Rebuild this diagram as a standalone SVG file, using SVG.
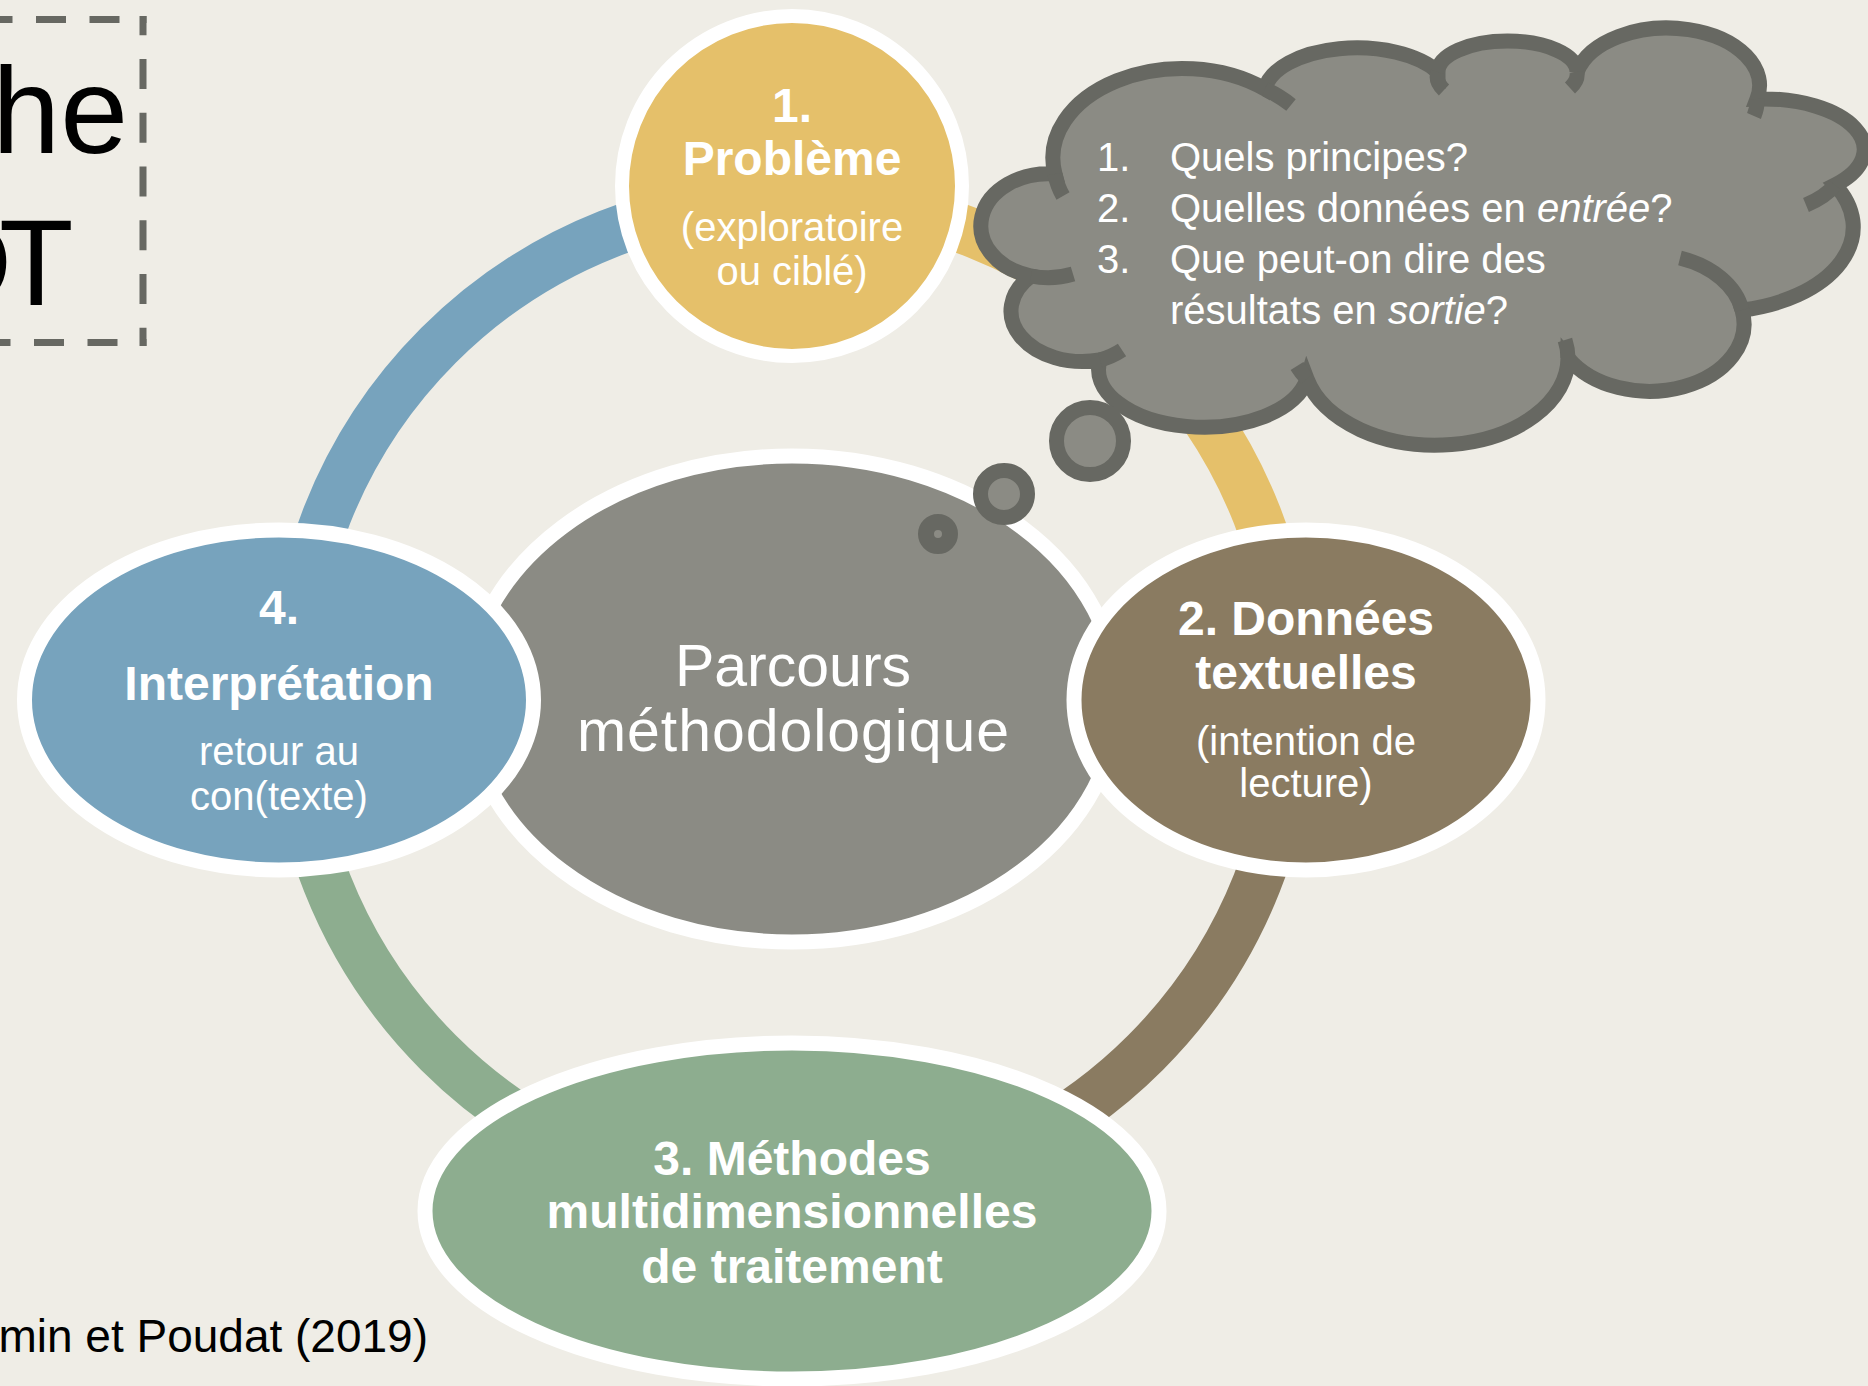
<svg xmlns="http://www.w3.org/2000/svg" width="1868" height="1386" viewBox="0 0 1868 1386">
<defs>
<style>
.lbl{font-family:"Liberation Sans",Arial,sans-serif;fill:#fff;text-anchor:middle}
.ttl{font-weight:bold;font-size:48px}
.sub{font-size:40px}
.ring{fill:none;stroke-width:49}
.node{stroke:#fff}
.cloud{fill:#8b8b84;stroke:#676862;stroke-width:15;stroke-linejoin:miter}
.tick{fill:none;stroke:#676862;stroke-width:15}
.bub{fill:#8b8b84;stroke:#676862}
.dash{fill:none;stroke:#676862;stroke-width:7}
.q{font-family:"Liberation Sans",Arial,sans-serif;fill:#fff;font-size:40px}
.blk{font-family:"Liberation Sans",Arial,sans-serif;fill:#000}
</style>
</defs>

<rect width="1868" height="1386" fill="#efede6"/>

<!-- title frame, cut by the left edge -->
<g id="title">
  <path class="dash" d="M146.5 19.5 H-30" stroke-dasharray="30 23.5" stroke-dashoffset="26.5"/>
  <path class="dash" d="M143 16 V346" stroke-dasharray="30 23.75" stroke-dashoffset="10.75"/>
  <path class="dash" d="M146.5 342.5 H-30" stroke-dasharray="30 23.5" stroke-dashoffset="24.5"/>
  <text class="blk" x="128" y="153" font-size="122" text-anchor="end">he</text>
  <text class="blk" y="305" font-size="122"><tspan x="-76">D</tspan><tspan x="-1">T</tspan></text>
</g>

<g id="citation">
  <text class="blk" x="428" y="1352" font-size="46" text-anchor="end">min et Poudat (2019)</text>
</g>

<!-- circular track linking the four steps -->
<g id="connectors">
  <path class="ring" stroke="#77a3bd" d="M292 699 A500 500 0 0 1 792 199"/>
  <path class="ring" stroke="#e5c06a" d="M792 199 A500 500 0 0 1 1292 699"/>
  <path class="ring" stroke="#8a7b61" d="M1292 699 A500 500 0 0 1 792 1199"/>
  <path class="ring" stroke="#8dad8f" d="M792 1199 A500 500 0 0 1 292 699"/>
</g>

<g id="center">
  <ellipse class="node" cx="792" cy="699" rx="325" ry="243" fill="#8b8b84" stroke-width="15"/>
  <text class="lbl" x="793" y="686" font-size="59">Parcours</text>
  <text class="lbl" x="793" y="751" font-size="59" textLength="432">méthodologique</text>
</g>

<g id="node-probleme">
  <circle class="node" cx="792" cy="186" r="170" fill="#e5c06a" stroke-width="14"/>
  <text class="lbl ttl" x="792" y="122">1.</text>
  <text class="lbl ttl" x="792" y="175">Problème</text>
  <text class="lbl sub" x="792" y="241">(exploratoire</text>
  <text class="lbl sub" x="792" y="285">ou ciblé)</text>
</g>

<g id="node-donnees">
  <ellipse class="node" cx="1306" cy="700" rx="232" ry="170" fill="#8a7b61" stroke-width="15"/>
  <text class="lbl ttl" x="1306" y="635">2. Données</text>
  <text class="lbl ttl" x="1306" y="689">textuelles</text>
  <text class="lbl sub" x="1306" y="755">(intention de</text>
  <text class="lbl sub" x="1306" y="797">lecture)</text>
</g>

<g id="node-methodes">
  <ellipse class="node" cx="792" cy="1211" rx="367" ry="168" fill="#8dad8f" stroke-width="15"/>
  <text class="lbl ttl" x="792" y="1175">3. Méthodes</text>
  <text class="lbl ttl" x="792" y="1228">multidimensionnelles</text>
  <text class="lbl ttl" x="792" y="1283">de traitement</text>
</g>

<g id="node-interpretation">
  <ellipse class="node" cx="279" cy="700" rx="254.5" ry="170" fill="#77a3bd" stroke-width="15"/>
  <text class="lbl ttl" x="279" y="624">4.</text>
  <text class="lbl ttl" x="279" y="700">Interprétation</text>
  <text class="lbl sub" x="279" y="765">retour au</text>
  <text class="lbl sub" x="279" y="810">con(texte)</text>
</g>

<!-- thought cloud with its questions -->
<g id="cloud">
  <path class="cloud" d="M1055 174
    A129.5 89.5 0 0 1 1265 89
    A92.5 46.5 0 0 1 1438 72
    A69.5 31 0 0 1 1577 72
    A92.5 57.5 0 0 1 1757 99
    A100.5 50.5 0 0 1 1835 185
    A137.5 84.5 0 0 1 1742 310
    A94.5 67.5 0 0 1 1568 358
    A132.5 87.5 0 0 1 1307 379
    A104.5 57.5 0 0 1 1100 360
    A71.5 50.5 0 0 1 1031 276
    A67.5 52 0 0 1 1055 174 Z"/>
  <path class="tick" d="M1055 174 A129.5 89.5 0 0 0 1063 196
    M1265 89 A129.5 89.5 0 0 1 1291 105
    M1438 72 A69.5 31 0 0 0 1444 90
    M1577 72 A69.5 31 0 0 1 1570 88
    M1757 99 A92.5 57.5 0 0 1 1754 116
    M1835 185 A100.5 50.5 0 0 1 1806 205
    M1742 310 A94.5 67.5 0 0 0 1680 258
    M1568 358 A132.5 87.5 0 0 0 1565 340
    M1307 379 A132.5 87.5 0 0 1 1297 366
    M1100 360 A71.5 50.5 0 0 0 1122 350
    M1031 276 A67.5 52 0 0 0 1073 274"/>
  <text class="q" x="1097" y="171">1.</text>
  <text class="q" x="1097" y="222">2.</text>
  <text class="q" x="1097" y="273">3.</text>
  <text class="q" x="1170" y="171">Quels principes?</text>
  <text class="q" x="1170" y="222">Quelles données en <tspan font-style="italic">entrée</tspan>?</text>
  <text class="q" x="1170" y="273">Que peut-on dire des</text>
  <text class="q" x="1170" y="324">résultats en <tspan font-style="italic">sortie</tspan>?</text>
</g>

<g id="bubbles">
  <circle class="bub" cx="1090" cy="441" r="33.5" stroke-width="15"/>
  <circle class="bub" cx="1004" cy="494" r="23.5" stroke-width="15"/>
  <circle class="bub" cx="938" cy="534" r="12" stroke-width="16"/>
</g>
</svg>
